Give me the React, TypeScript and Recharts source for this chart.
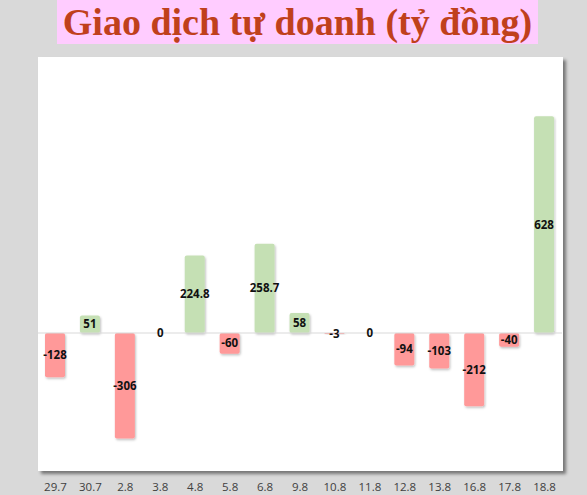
import { ComposedChart, Bar, Line, XAxis, YAxis, Cell, LabelList, ReferenceLine } from "recharts";

const dates = ["29.7", "30.7", "2.8", "3.8", "4.8", "5.8", "6.8", "9.8", "10.8", "11.8", "12.8", "13.8", "16.8", "17.8", "18.8"];
const values = [-128, 51, -306, 0, 224.8, -60, 258.7, 58, -3, 0, -94, -103, -212, -40, 628];
const yDomain = [-400, 800];

const data = dates.map((d, i) => ({ date: d, value: values[i] }));

const labelStyle = {
  fill: "#111",
  fontSize: 11.5,
  fontWeight: "bold",
  fontFamily: "'Open Sans', sans-serif",
};

// value in the middle of the bar
function ValueLabel(props: any) {
  const { x, y, width, height, value } = props;
  if (x == null || y == null) return null;
  return (
    <text x={Number(x) + Number(width) / 2} y={Number(y) + Number(height || 0) / 2} dy="0.35em" textAnchor="middle" {...labelStyle}>
      {value}
    </text>
  );
}

// zero-height bars get no label from the bar, so draw those from the invisible line
function ZeroLabel(props: any) {
  const { x, y, value } = props;
  if (value !== 0 || x == null || y == null) return null;
  return (
    <text x={x} y={y} dy="0.35em" textAnchor="middle" {...labelStyle}>
      {value}
    </text>
  );
}

export default function App() {
  return (
    <div style={{ position: "relative", width: 587, height: 495, background: "#d9d9d9", overflow: "hidden" }}>
      <style>{"body{margin:0}"}</style>

      {/* title */}
      <div
        style={{
          position: "absolute",
          left: 57,
          top: 0,
          width: 481,
          height: 44,
          background: "#ffccff",
          color: "#c0401c",
          fontFamily: "'Liberation Serif', 'Times New Roman', serif",
          fontWeight: "bold",
          fontSize: 38,
          lineHeight: "44px",
          textAlign: "center",
          whiteSpace: "nowrap",
        }}
      >
        Giao dịch tự doanh (tỷ đồng)
      </div>

      {/* plot panel */}
      <div
        style={{
          position: "absolute",
          left: 38,
          top: 57,
          width: 525,
          height: 414,
          background: "#ffffff",
          boxShadow: "3px 3px 3px rgba(0,0,0,0.45)",
        }}
      />

      <div style={{ position: "absolute", left: 0, top: 0 }}>
        <ComposedChart width={587} height={495} data={data} margin={{ top: 57, right: 25, left: 38, bottom: 0 }}>
          <defs>
            <filter id="barShadow" x="-20%" y="-20%" width="150%" height="150%">
              <feDropShadow dx="1" dy="1.5" stdDeviation="1" floodColor="#000" floodOpacity="0.25" />
            </filter>
          </defs>
          <YAxis hide domain={yDomain} />
          <XAxis
            dataKey="date"
            axisLine={false}
            tickLine={false}
            height={24}
            tickMargin={6}
            interval={0}
            tick={{ fill: "#404040", fontSize: 11.5, fontFamily: "'Open Sans', sans-serif" }}
          />
          <ReferenceLine y={0} stroke="#d9d9d9" strokeWidth={1} />
          <Bar dataKey="value" barSize={20} isAnimationActive={false} radius={2} style={{ filter: "url(#barShadow)" }}>
            {values.map((v, i) => (
              <Cell key={dates[i]} fill={v >= 0 ? "#c5e0b4" : "#ff9999"} />
            ))}
            <LabelList dataKey="value" content={ValueLabel} />
          </Bar>
          <Line dataKey="value" stroke="none" dot={false} activeDot={false} isAnimationActive={false}>
            <LabelList dataKey="value" content={ZeroLabel} />
          </Line>
        </ComposedChart>
      </div>
    </div>
  );
}
